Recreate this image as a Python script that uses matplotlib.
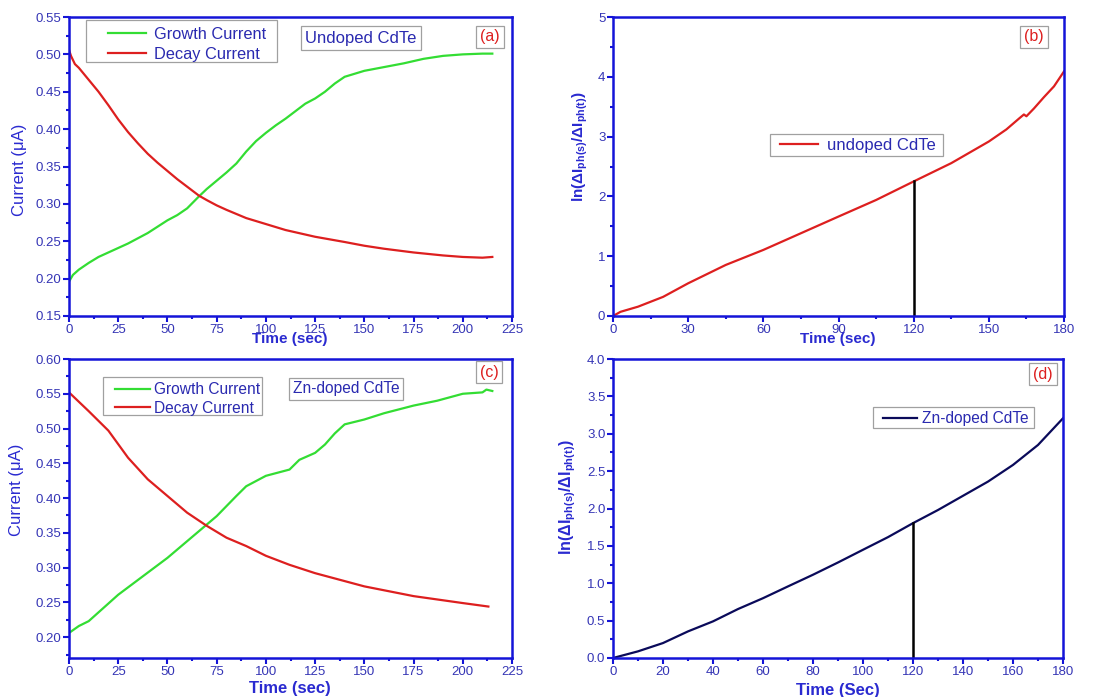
import matplotlib
matplotlib.use("Agg")
import matplotlib.pyplot as plt
from matplotlib.ticker import MultipleLocator, FormatStrFormatter
from matplotlib.patches import Rectangle

plt.rcParams['font.family'] = ['Liberation Sans', 'DejaVu Sans']
plt.rcParams['mathtext.fontset'] = 'custom'
plt.rcParams['mathtext.rm'] = 'Liberation Sans'
plt.rcParams['mathtext.bf'] = 'Liberation Sans:bold'
plt.rcParams['mathtext.it'] = 'Liberation Sans:italic'

# ---------------- data ----------------
# (a) undoped CdTe
a_growth_t = [0, 2, 5, 10, 15, 20, 25, 30, 40, 50, 55, 60, 66, 70, 75, 80, 85, 90, 95, 100,
              105, 110, 115, 120, 125, 130, 135, 140, 150, 160, 170, 175, 180, 190, 200, 210, 215]
a_growth_i = [0.196, 0.205, 0.212, 0.221, 0.229, 0.235, 0.241, 0.247, 0.261, 0.278, 0.285, 0.294,
              0.310, 0.320, 0.331, 0.342, 0.354, 0.370, 0.384, 0.395, 0.405, 0.414, 0.424, 0.434,
              0.441, 0.450, 0.461, 0.470, 0.478, 0.483, 0.488, 0.491, 0.494, 0.498, 0.500, 0.501, 0.501]
a_decay_t = [0, 1, 3, 5, 10, 15, 20, 25, 30, 35, 40, 45, 50, 55, 60, 66, 70, 75, 80, 90, 100,
             110, 125, 140, 150, 160, 175, 190, 200, 210, 215]
a_decay_i = [0.506, 0.498, 0.487, 0.482, 0.466, 0.450, 0.432, 0.413, 0.396, 0.381, 0.367, 0.355,
             0.344, 0.333, 0.323, 0.311, 0.305, 0.298, 0.292, 0.281, 0.273, 0.265, 0.256, 0.249,
             0.244, 0.240, 0.235, 0.231, 0.229, 0.228, 0.229]

# (b) ln plot undoped
b_t = [0, 3, 10, 20, 30, 45, 60, 75, 90, 105, 120, 135, 150, 157, 162, 164, 165, 168, 172, 176, 180]
b_v = [0.0, 0.07, 0.156, 0.32, 0.547, 0.854, 1.105, 1.384, 1.663, 1.94, 2.25, 2.556, 2.918,
       3.12, 3.30, 3.37, 3.34, 3.47, 3.66, 3.84, 4.09]

# (c) Zn-doped CdTe
c_growth_t = [0, 5, 10, 25, 50, 75, 85, 90, 100, 112, 117, 125, 130, 135, 140, 150, 160, 175,
              187, 200, 210, 212, 215]
c_growth_i = [0.206, 0.216, 0.223, 0.261, 0.314, 0.374, 0.403, 0.417, 0.432, 0.441, 0.455, 0.465,
              0.477, 0.493, 0.506, 0.513, 0.522, 0.533, 0.540, 0.550, 0.552, 0.556, 0.554]
c_decay_t = [0, 10, 20, 30, 40, 50, 60, 70, 80, 90, 100, 112, 125, 150, 175, 200, 213]
c_decay_i = [0.552, 0.525, 0.497, 0.458, 0.427, 0.403, 0.379, 0.360, 0.343, 0.331, 0.317, 0.304,
             0.292, 0.273, 0.259, 0.249, 0.244]

# (d) ln plot Zn-doped
d_t = [0, 10, 20, 30, 40, 50, 60, 70, 80, 90, 100, 110, 120, 130, 140, 150, 160, 170, 180]
d_v = [0.0, 0.089, 0.2, 0.356, 0.49, 0.655, 0.80, 0.958, 1.114, 1.278, 1.448, 1.617, 1.804,
       1.98, 2.17, 2.36, 2.583, 2.85, 3.207]

marker_t = 120
b_marker_v = 2.25
d_marker_v = 1.8

# ---------------- style ----------------
W, H = 1099, 697
SPINE = '#1414d8'
TICKLBL = '#3535b5'
LBL = '#2a2ad0'
LEGTXT = '#2a2ab0'
GREEN = '#33dd33'
RED = '#dd1f1f'
NAVY = '#0a0a5a'
FRAME = '#a0a0a0'

fig = plt.figure(figsize=(W / 100, H / 100), dpi=100)


def px_axes(x0, y0, x1, y1):
    return [x0 / W, 1 - y1 / H, (x1 - x0) / W, (y1 - y0) / H]


def fpos(x, y):
    return (x / W, 1 - y / H)


def style(ax, xmaj, xmin, ymaj, ymin, yfmt):
    for s in ax.spines.values():
        s.set_color(SPINE)
        s.set_linewidth(1.8)
    ax.xaxis.set_major_locator(MultipleLocator(xmaj))
    ax.xaxis.set_minor_locator(MultipleLocator(xmin))
    ax.yaxis.set_major_locator(MultipleLocator(ymaj))
    ax.yaxis.set_minor_locator(MultipleLocator(ymin))
    ax.yaxis.set_major_formatter(FormatStrFormatter(yfmt))
    ax.tick_params(which='both', direction='out', color=SPINE, width=1.5,
                   labelcolor=TICKLBL, labelsize=9.5, top=False, right=False)
    ax.tick_params(which='major', length=4, pad=1.5)
    ax.tick_params(which='minor', length=2.5)


def boxtext(x, y, s, color, size=11):
    fig.text(*fpos(x, y), s, color=color, fontsize=size, ha='center', va='center',
             bbox=dict(boxstyle='square,pad=0.25', fc='white', ec=FRAME, lw=0.9))


def frame(ax, x0, y0, x1, y1):
    ax.add_patch(Rectangle(fpos(x0, y1), (x1 - x0) / W, (y1 - y0) / H,
                           transform=fig.transFigure, fc='white', ec=FRAME,
                           lw=0.9, zorder=4, clip_on=False))


def legend(ax, handles, x, y, size, hl, hpad, lspace):
    leg = ax.legend(handles=handles, loc='upper left', bbox_to_anchor=fpos(x, y),
                    bbox_transform=fig.transFigure, frameon=False, fontsize=size,
                    handlelength=hl, handletextpad=hpad, labelspacing=lspace,
                    borderpad=0, borderaxespad=0)
    for t in leg.get_texts():
        t.set_color(LEGTXT)
    leg.set_zorder(6)
    return leg


lnlabel = r'$\mathbf{ln(\Delta I_{ph(s)}/\Delta I_{ph(t)})}$'

# ---- (a) ----
axa = fig.add_axes(px_axes(69, 17, 512, 316))
ga, = axa.plot(a_growth_t, a_growth_i, color=GREEN, lw=1.6, label='Growth Current')
da, = axa.plot(a_decay_t, a_decay_i, color=RED, lw=1.6, label='Decay Current')
axa.set_xlim(0, 225)
axa.set_ylim(0.15, 0.55)
style(axa, 25, 12.5, 0.05, 0.025, '%.2f')
frame(axa, 86, 20, 277, 62)
legend(axa, [ga, da], 108, 27, 11.8, 2.3, 0.5, 0.3)
boxtext(361, 38, 'Undoped CdTe', LEGTXT, 12)
boxtext(490, 37, '(a)', RED, 11.5)
fig.text(*fpos(290, 339), 'Time (sec)', color=LBL, fontsize=11, fontweight='bold',
         ha='center', va='center')
fig.text(*fpos(20, 170), 'Current (\u03bcA)', color=LBL, fontsize=12, rotation=90,
         ha='center', va='center')

# ---- (b) ----
axb = fig.add_axes(px_axes(613, 17, 1064, 316))
lb, = axb.plot(b_t, b_v, color=RED, lw=1.6, label='undoped CdTe')
axb.plot([marker_t, marker_t], [0, b_marker_v], color='black', lw=1.8)
axb.set_xlim(0, 180)
axb.set_ylim(0, 5)
style(axb, 30, 15, 1, 0.5, '%d')
frame(axb, 770, 134, 943, 156)
legend(axb, [lb], 780, 138, 12, 2.3, 0.5, 0.2)
boxtext(1034, 37, '(b)', RED, 11.5)
fig.text(*fpos(838, 339), 'Time (sec)', color=LBL, fontsize=11, fontweight='bold',
         ha='center', va='center')
fig.text(*fpos(580, 147), lnlabel, color=LBL, fontsize=11, rotation=90,
         ha='center', va='center')

# ---- (c) ----
axc = fig.add_axes(px_axes(69, 359, 512, 658))
gc, = axc.plot(c_growth_t, c_growth_i, color=GREEN, lw=1.6, label='Growth Current')
dc, = axc.plot(c_decay_t, c_decay_i, color=RED, lw=1.6, label='Decay Current')
axc.set_xlim(0, 225)
axc.set_ylim(0.17, 0.60)
style(axc, 25, 12.5, 0.05, 0.025, '%.2f')
frame(axc, 103, 377, 262, 415)
legend(axc, [gc, dc], 115, 382, 11.2, 2.25, 0.26, 0.25)
boxtext(346, 389, 'Zn-doped CdTe', LEGTXT, 11.2)
boxtext(489, 372, '(c)', RED, 11.5)
fig.text(*fpos(290, 689), 'Time (sec)', color=LBL, fontsize=12, fontweight='bold',
         ha='center', va='center')
fig.text(*fpos(17, 490), 'Current (\u03bcA)', color=LBL, fontsize=12, rotation=90,
         ha='center', va='center')

# ---- (d) ----
axd = fig.add_axes(px_axes(613, 359, 1063, 658))
ld, = axd.plot(d_t, d_v, color=NAVY, lw=1.6, label='Zn-doped CdTe')
axd.plot([marker_t, marker_t], [0, d_marker_v], color='black', lw=1.8)
axd.set_xlim(0, 180)
axd.set_ylim(0, 4)
style(axd, 20, 10, 0.5, 0.25, '%.1f')
frame(axd, 873, 407, 1034, 428)
legend(axd, [ld], 883, 411, 11.2, 2.2, 0.3, 0.2)
boxtext(1043, 374, '(d)', RED, 11.5)
fig.text(*fpos(838, 690), 'Time (Sec)', color=LBL, fontsize=12, fontweight='bold',
         ha='center', va='center')
fig.text(*fpos(568, 497), lnlabel, color=LBL, fontsize=11.5, rotation=90,
         ha='center', va='center')

fig.savefig('out.png', dpi=100)
